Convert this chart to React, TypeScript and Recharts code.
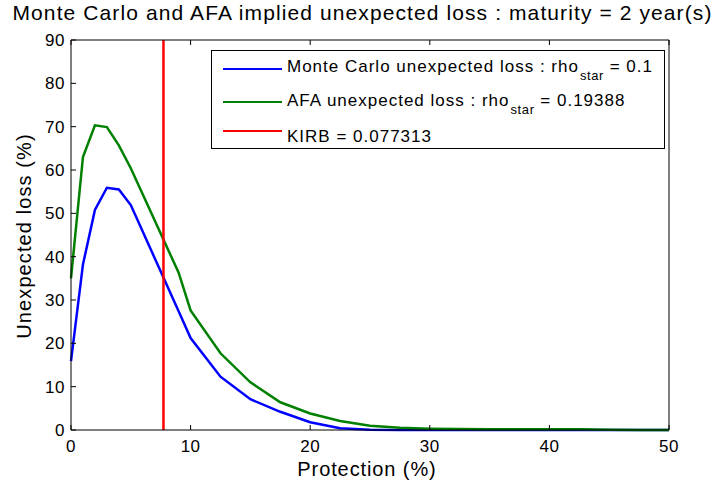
import React from "react";
import { LineChart, Line, XAxis, YAxis, ReferenceLine } from "recharts";

const protection = [0, 1, 2, 3, 4, 5, 9, 10, 12.5, 15, 17.5, 20, 22.5, 25, 27.5, 30, 32.5, 35, 37.5, 40, 42.5, 45, 47.5, 50];
const monteCarlo = [15.9, 38.2, 50.8, 55.9, 55.5, 51.9, 27.4, 21.2, 12.3, 7.1, 4.2, 1.8, 0.4, 0.05, 0, 0, 0, 0, 0, 0, 0, 0, 0, 0];
const afa = [35, 63, 70.3, 69.9, 65.7, 60.4, 36.3, 27.6, 17.7, 11, 6.4, 3.8, 2.1, 1.0, 0.5, 0.3, 0.25, 0.2, 0.2, 0.2, 0.15, 0.05, 0, 0];
const kirb = 7.7313;
const xTicks = [0, 10, 20, 30, 40, 50];
const yTicks = [0, 10, 20, 30, 40, 50, 60, 70, 80, 90];

const data = protection.map((p, i) => ({ p, mc: monteCarlo[i], afa: afa[i] }));

const FONT = "'Liberation Sans', Arial, sans-serif";

const BottomTick = (props: any) => {
  const { x, y, payload } = props;
  return (
    <g>
      <line x1={x} y1={y} x2={x} y2={y - 5} stroke="#000" strokeWidth={1} />
      <text x={x} y={y + 22} textAnchor="middle" fontSize={17} letterSpacing={0.5} fontFamily={FONT} fill="#000">
        {payload.value}
      </text>
    </g>
  );
};
const TopTick = (props: any) => {
  const { x, y } = props;
  return <line x1={x} y1={y} x2={x} y2={y + 5} stroke="#000" strokeWidth={1} />;
};
const LeftTick = (props: any) => {
  const { x, y, payload } = props;
  return (
    <g>
      <line x1={x} y1={y} x2={x + 5} y2={y} stroke="#000" strokeWidth={1} />
      <text x={x - 6} y={y + 6} textAnchor="end" fontSize={17} letterSpacing={0.5} fontFamily={FONT} fill="#000">
        {payload.value}
      </text>
    </g>
  );
};
const RightTick = (props: any) => {
  const { x, y } = props;
  return <line x1={x} y1={y} x2={x - 5} y2={y} stroke="#000" strokeWidth={1} />;
};

const legendRows = [
  { color: "#0000FF", main: "Monte Carlo unexpected loss : rho", sub: "star", tail: " = 0.1", lineY: 19, textY: 17 },
  { color: "#008000", main: "AFA unexpected loss : rho", sub: "star", tail: " = 0.19388", lineY: 52, textY: 51 },
  { color: "#FF0000", main: "KIRB = 0.077313", sub: "", tail: "", lineY: 81, textY: 87 },
];

export default function App() {
  return (
    <div style={{ position: "absolute", left: 0, top: 0, width: 719, height: 488, background: "#fff", fontFamily: FONT }}>
      <LineChart width={719} height={488} data={data} margin={{ top: 39, right: 49, bottom: 28, left: 0 }}>
        <XAxis
          xAxisId="b"
          dataKey="p"
          type="number"
          domain={[0, 50]}
          ticks={xTicks}
          tickLine={false}
          tickSize={0}
          tickMargin={0}
          height={30}
          axisLine={{ stroke: "#000" }}
          tick={<BottomTick />}
          interval={0}
        />
        <XAxis
          xAxisId="t"
          orientation="top"
          dataKey="p"
          type="number"
          domain={[0, 50]}
          ticks={xTicks}
          tickLine={false}
          tickSize={0}
          tickMargin={0}
          height={1}
          axisLine={{ stroke: "#000" }}
          tick={<TopTick />}
          interval={0}
        />
        <YAxis
          yAxisId="l"
          type="number"
          domain={[0, 90]}
          ticks={yTicks}
          tickLine={false}
          tickSize={0}
          tickMargin={0}
          width={71}
          axisLine={{ stroke: "#000" }}
          tick={<LeftTick />}
          interval={0}
        />
        <YAxis
          yAxisId="r"
          orientation="right"
          type="number"
          domain={[0, 90]}
          ticks={yTicks}
          tickLine={false}
          tickSize={0}
          tickMargin={0}
          width={1}
          axisLine={{ stroke: "#000" }}
          tick={<RightTick />}
          interval={0}
        />
        <Line xAxisId="b" yAxisId="l" dataKey="mc" stroke="#0000FF" strokeWidth={2.5} dot={false} isAnimationActive={false} />
        <Line xAxisId="b" yAxisId="l" dataKey="afa" stroke="#008000" strokeWidth={2.5} dot={false} isAnimationActive={false} />
        <ReferenceLine xAxisId="b" yAxisId="l" x={kirb} stroke="#FF0000" strokeWidth={2.5} />
      </LineChart>

      <div style={{ position: "absolute", left: 362.5, top: 0, transform: "translateX(-50%)", fontSize: 21, letterSpacing: 1.1, whiteSpace: "nowrap", color: "#000", lineHeight: "25px" }}>
        Monte Carlo and AFA implied unexpected loss : maturity = 2 year(s)
      </div>
      <div style={{ position: "absolute", left: 367, top: 457, transform: "translateX(-50%)", fontSize: 20, letterSpacing: 0.9, whiteSpace: "nowrap", color: "#000", lineHeight: "24px" }}>
        Protection (%)
      </div>
      <div
        style={{
          position: "absolute",
          left: 24,
          top: 236,
          transform: "translate(-50%, -50%) rotate(-90deg)",
          fontSize: 20,
          letterSpacing: 1.1,
          whiteSpace: "nowrap",
          color: "#000",
          lineHeight: "24px",
        }}
      >
        Unexpected loss (%)
      </div>

      <div
        style={{
          position: "absolute",
          left: 211,
          top: 50,
          width: 454,
          height: 99,
          border: "1px solid #000",
          background: "#fff",
          boxSizing: "border-box",
        }}
      >
        {legendRows.map((r, i) => (
          <React.Fragment key={i}>
            <div style={{ position: "absolute", left: 11, top: r.lineY - 1.25 - 1, width: 59, height: 2.5, background: r.color }} />
            <div style={{ position: "absolute", left: 75, top: r.textY - 1 - 11, height: 22, lineHeight: "22px", whiteSpace: "nowrap", fontSize: 17, letterSpacing: 1.0, color: "#000" }}>
              {r.main}
              {r.sub ? (
                <span style={{ fontSize: 13, letterSpacing: 0.6, position: "relative", top: 8, marginLeft: 1 }}>{r.sub}</span>
              ) : null}
              {r.tail}
            </div>
          </React.Fragment>
        ))}
      </div>
    </div>
  );
}
